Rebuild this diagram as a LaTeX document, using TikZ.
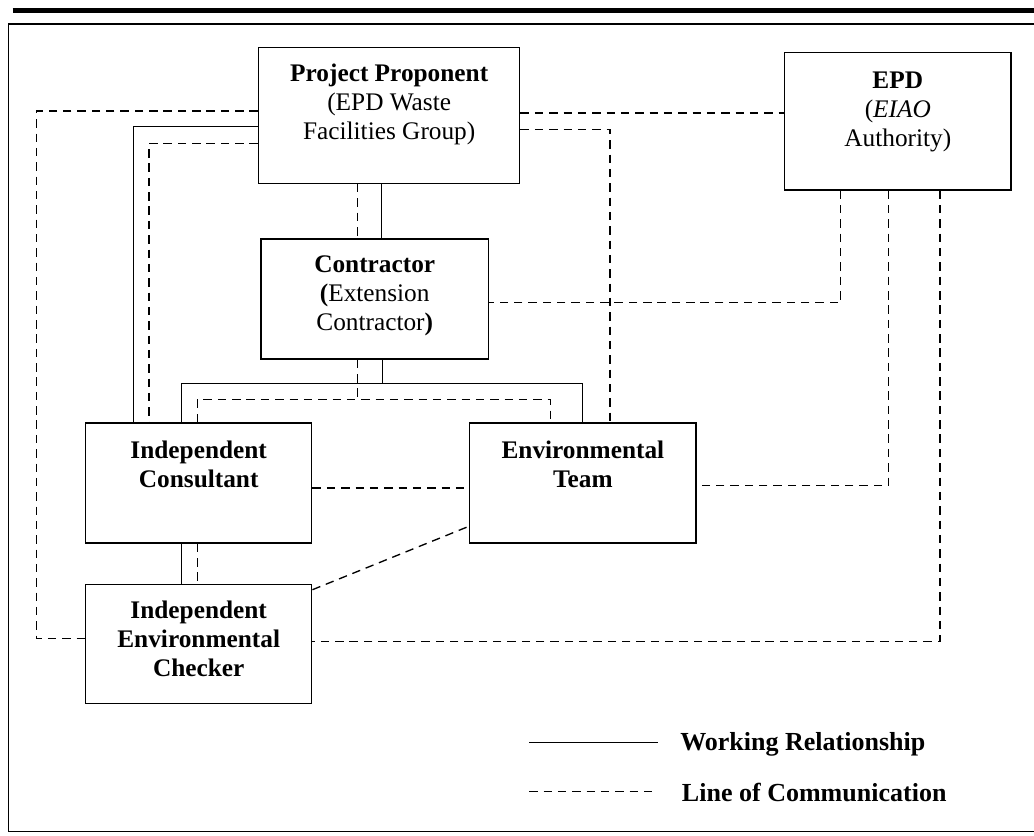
\documentclass[tikz,border=0pt]{standalone}
\usepackage{fontspec}
\setmainfont{Liberation Serif}
\usepackage{tikz}
\usetikzlibrary{positioning}
\tikzstyle{orgbox} = [draw, line width=1.05pt, rectangle, inner sep=0pt]
\tikzstyle{boxtext} = [align=center, inner sep=0pt, anchor=north, font=\fontsize{18pt}{20.6pt}\selectfont]
\tikzstyle{work} = [line width=0.95pt]
\tikzstyle{comm} = [line width=0.95pt, dash pattern=on 6pt off 4.2pt]

\begin{document}
\begin{tikzpicture}[x=0.025cm,y=-0.025cm]
    \useasboundingbox (0,0) rectangle (1034,836);
    % page rule and frame
    \draw[line width=3.6pt] (12.7,10.8) -- (1045,10.8);
    \draw[line width=0.95pt] (1045,24) -- (8.3,24) -- (8.3,831.3) -- (1045,831.3);

    % boxes
    \node[orgbox, minimum width=6.525cm, minimum height=3.4cm] (pp) at (389.2,115.3) {};
    \node[orgbox, minimum width=5.66cm, minimum height=3.43cm] (epd) at (897.8,121.3) {};
    \node[orgbox, minimum width=5.68cm, minimum height=3cm] (con) at (374.7,299) {};
    \node[orgbox, minimum width=5.65cm, minimum height=3cm] (ic) at (198.7,483) {};
    \node[orgbox, minimum width=5.66cm, minimum height=3cm] (et) [right=3.91cm of ic] {};
    \node[orgbox, minimum width=5.65cm, minimum height=2.98cm] (iec) [below=1cm of ic] {};

    \node[boxtext] (pp-t) at ([yshift=-0.42cm]pp.north) {\textbf{Project Proponent}\\(EPD Waste\\Facilities Group)};
    \node[boxtext] (epd-t) at ([yshift=-0.49cm]epd.north) {\textbf{EPD}\\(\textit{EIAO}\\Authority)};
    \node[boxtext] (con-t) at ([yshift=-0.43cm]con.north) {\textbf{Contractor}\\\textbf{(}Extension\\Contractor\textbf{)}};
    \node[boxtext, font=\fontsize{18pt}{20.6pt}\selectfont\bfseries] (ic-t) at ([yshift=-0.45cm]ic.north) {Independent\\Consultant};
    \node[boxtext, font=\fontsize{18pt}{20.6pt}\selectfont\bfseries] (et-t) at ([yshift=-0.45cm]et.north) {Environmental\\Team};
    \node[boxtext, font=\fontsize{18pt}{20.6pt}\selectfont\bfseries] (iec-t) at ([yshift=-0.43cm]iec.north) {Independent\\Environmental\\Checker};

    % working relationship
    \draw[work] (pp.west |- 0,126.7) -- (133.3,126.7) -- (ic.north -| 133.3,0);
    \draw[work] (pp.south -| 381.7,0) -- (con.north -| 381.7,0);
    \draw[work] (con.south -| 382.7,0) -- (382.7,383.3);
    \draw[work] (ic.north -| 181.7,0) -- (181.7,383.3) -- (582.3,383.3) -- (et.north -| 582.3,0);
    \draw[work] (ic.south -| 181.7,0) -- (iec.north -| 181.7,0);

    % line of communication
    \draw[comm] (pp.west |- 0,111) -- (36.7,111) -- (36.7,638.7) -- (iec.west |- 0,638.7);
    \draw[comm] (pp.west |- 0,143.3) -- (149,143.3) -- (ic.north -| 149,0);
    \draw[comm] (pp.south -| 357.7,0) -- (con.north -| 357.7,0);
    \draw[comm] (con.south -| 357.7,0) -- (357.7,399.3);
    \draw[comm] (ic.north -| 197.7,0) -- (197.7,399.3) -- (550.7,399.3) -- (et.north -| 550.7,0);
    \draw[comm] (ic.south -| 197.7,0) -- (iec.north -| 197.7,0);
    \draw[comm] (pp.east |- 0,113) -- (epd.west |- 0,113);
    \draw[comm] (pp.east |- 0,129.3) -- (610,129.3) -- (et.north -| 610,0);
    \draw[comm] (epd.south -| 840.7,0) -- (840.7,302.7) -- (con.east |- 0,302.7);
    \draw[comm] (epd.south -| 888.3,0) -- (888.3,485.7) -- (et.east |- 0,485.7);
    \draw[comm] (epd.south -| 940,0) -- (940,641.3) -- (iec.east |- 0,641.3);
    \draw[comm] (ic.east |- 0,488) -- (et.west |- 0,488);
    \draw[comm] (iec.east |- 0,589.7) -- (et.west |- 0,526.3);

    % legend
    \coordinate (lw-a) at (529.3,742.3);
    \coordinate (lw-b) at (658.3,742.3);
    \coordinate (lc-a) at (529.3,791.3);
    \coordinate (lc-b) at (658.3,791.3);
    \draw[work] (lw-a) -- (lw-b);
    \draw[comm] (lc-a) -- (lc-b);
    \node[anchor=west, inner sep=0pt, font=\fontsize{18.5pt}{20.6pt}\selectfont\bfseries] (lw-t) at (680,744.7) {Working Relationship};
    \node[anchor=west, inner sep=0pt, font=\fontsize{18.5pt}{20.6pt}\selectfont\bfseries] (lc-t) at (681.7,792) {Line of Communication};
\end{tikzpicture}
\end{document}
